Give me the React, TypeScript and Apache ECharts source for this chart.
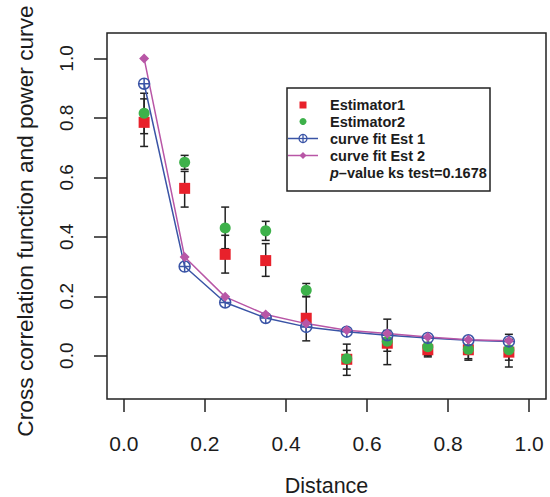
import React, { useEffect, useRef } from "react";
import * as echarts from "echarts";

const distances = [0.05, 0.15, 0.25, 0.35, 0.45, 0.55, 0.65, 0.75, 0.85, 0.95];
const estimator1 = [0.785, 0.563, 0.341, 0.32, 0.126, -0.012, 0.042, 0.02, 0.02, 0.012];
const estimator1Low = [0.704, 0.5, 0.278, 0.267, 0.05, -0.066, -0.03, -0.004, -0.015, -0.038];
const estimator1High = [0.864, 0.62, 0.405, 0.377, 0.2, 0.039, 0.123, 0.044, 0.055, 0.072];
const estimator2 = [0.816, 0.651, 0.43, 0.42, 0.22, -0.01, 0.049, 0.03, 0.022, 0.02];
const estimator2Low = [0.747, 0.627, 0.36, 0.388, 0.198, -0.045, 0.015, 0.0, -0.01, -0.015];
const estimator2High = [0.883, 0.674, 0.5, 0.452, 0.243, 0.018, 0.085, 0.06, 0.054, 0.055];
const fitEst1 = [0.915, 0.3, 0.179, 0.127, 0.097, 0.081, 0.069, 0.06, 0.052, 0.048];
const fitEst2 = [1.0, 0.332, 0.198, 0.139, 0.108, 0.086, 0.075, 0.063, 0.054, 0.05];
const tickValues = [0, 0.2, 0.4, 0.6, 0.8, 1.0];
const legendLabels = ["Estimator1", "Estimator2", "curve fit Est 1", "curve fit Est 2"];
const pValueText = "–value ks test=0.1678";

const RED = "#e8212b";
const GREEN = "#3db14a";
const BLUE = "#3a54a6";
const MAGENTA = "#b856a6";
const INK = "#1c1c1c";
const FONT = "Liberation Sans, Arial, Helvetica, sans-serif";

const circlePlus =
  "path://M0,-10 A10,10 0 1,1 0,10 A10,10 0 1,1 0,-10 Z M-10,0 L10,0 M0,-10 L0,10";

export default function App() {
  const ref = useRef<HTMLDivElement>(null);
  useEffect(() => {
    if (!ref.current) return;
    const chart = echarts.init(ref.current, null, { renderer: "svg" });

    const errData = [
      ...distances.map((d, i) => [d, estimator1Low[i], estimator1High[i]]),
      ...distances.map((d, i) => [d, estimator2Low[i], estimator2High[i]]),
    ];

    const legX = 287;
    const legY = 88;
    const rowY = [105, 121.5, 138.5, 155.5, 172.5];
    const textX = 330;
    const symX = 303;
    const Z = 20;
    const legendText = (t: string, y: number) => ({
      type: "text",
      x: textX,
      y,
      z: Z,
      style: {
        text: t,
        fontSize: 14.5,
        fontWeight: "bold",
        fontFamily: FONT,
        fill: INK,
        verticalAlign: "middle",
      },
    });

    const option: any = {
      animation: false,
      backgroundColor: "#ffffff",
      grid: {
        left: 107,
        right: 4,
        top: 33,
        bottom: 98,
        show: true,
        borderColor: "#222",
        borderWidth: 1.5,
        outerBoundsMode: "none",
      },
      xAxis: {
        type: "value",
        min: -0.0416,
        max: 1.0416,
        axisLine: { show: false, onZero: false },
        splitLine: { show: false },
        axisTick: {
          show: true,
          length: 13,
          customValues: tickValues,
          lineStyle: { color: "#222", width: 1.5 },
        },
        axisLabel: {
          customValues: tickValues,
          formatter: (v: number) => v.toFixed(1),
          margin: 34,
          fontSize: 21,
          fontFamily: FONT,
          color: INK,
        },
        name: "Distance",
        nameLocation: "middle",
        nameGap: 76,
        nameTextStyle: { fontSize: 21.5, fontFamily: FONT, color: INK },
      },
      yAxis: {
        type: "value",
        min: -0.1456,
        max: 1.0856,
        axisLine: { show: false, onZero: false },
        splitLine: { show: false },
        axisTick: {
          show: true,
          length: 13,
          customValues: tickValues,
          lineStyle: { color: "#222", width: 1.5 },
        },
        axisLabel: {
          customValues: tickValues,
          formatter: (v: number) => v.toFixed(1),
          rotate: 90,
          margin: 31,
          fontSize: 19,
          fontFamily: FONT,
          color: INK,
        },
        name: "Cross correlation function and power curve",
        nameLocation: "middle",
        nameRotate: 90,
        nameGap: 71,
        nameTextStyle: { fontSize: 22.7, fontFamily: FONT, color: INK, padding: [0, 10, 0, 0] },
      },
      series: [
        {
          name: "Estimator1",
          type: "scatter",
          symbol: "rect",
          symbolSize: 11,
          itemStyle: { color: RED, opacity: 1 },
          data: distances.map((d, i) => [d, estimator1[i]]),
        },
        {
          name: "Estimator2",
          type: "scatter",
          symbol: "circle",
          symbolSize: 11,
          itemStyle: { color: GREEN, opacity: 1 },
          data: distances.map((d, i) => [d, estimator2[i]]),
        },
        {
          name: "errors",
          type: "custom",
          encode: { x: 0, y: [1, 2] },
          data: errData,
          renderItem: (params: any, api: any) => {
            const x = api.value(0);
            const lo = api.coord([x, api.value(1)]);
            const hi = api.coord([x, api.value(2)]);
            const hw = 4;
            const style = { stroke: "#222", lineWidth: 1.5 };
            return {
              type: "group",
              children: [
                { type: "line", shape: { x1: lo[0], y1: lo[1], x2: hi[0], y2: hi[1] }, style },
                { type: "line", shape: { x1: lo[0] - hw, y1: lo[1], x2: lo[0] + hw, y2: lo[1] }, style },
                { type: "line", shape: { x1: hi[0] - hw, y1: hi[1], x2: hi[0] + hw, y2: hi[1] }, style },
              ],
            };
          },
        },
        {
          name: "curve fit Est 1",
          type: "line",
          symbol: circlePlus,
          symbolSize: 11,
          showAllSymbol: true,
          itemStyle: { color: "rgba(255,255,255,0)", borderColor: BLUE, borderWidth: 1.5 },
          lineStyle: { color: BLUE, width: 1.5 },
          data: distances.map((d, i) => [d, fitEst1[i]]),
        },
        {
          name: "curve fit Est 2",
          type: "line",
          symbol: "diamond",
          symbolSize: 10,
          showAllSymbol: true,
          itemStyle: { color: MAGENTA },
          lineStyle: { color: MAGENTA, width: 1.5 },
          data: distances.map((d, i) => [d, fitEst2[i]]),
        },
      ],
      graphic: [
        {
          type: "rect",
          shape: { x: legX, y: legY, width: 203, height: 103 },
          style: { fill: "#fff", stroke: "#222", lineWidth: 1.5 },
          z: 10,
        },
        { type: "rect", z: Z, shape: { x: symX - 3.5, y: rowY[0] - 3.5, width: 7, height: 7 }, style: { fill: RED } },
        { type: "circle", z: Z, shape: { cx: symX, cy: rowY[1], r: 3.5 }, style: { fill: GREEN } },
        { type: "line", z: Z, shape: { x1: 288, y1: rowY[2], x2: 318, y2: rowY[2] }, style: { stroke: BLUE, lineWidth: 1.5 } },
        { type: "circle", z: Z, shape: { cx: symX, cy: rowY[2], r: 4 }, style: { fill: "#fff", stroke: BLUE, lineWidth: 1.3 } },
        { type: "line", z: Z + 1, shape: { x1: symX - 4, y1: rowY[2], x2: symX + 4, y2: rowY[2] }, style: { stroke: BLUE, lineWidth: 1.3 } },
        { type: "line", z: Z + 1, shape: { x1: symX, y1: rowY[2] - 4, x2: symX, y2: rowY[2] + 4 }, style: { stroke: BLUE, lineWidth: 1.3 } },
        { type: "line", z: Z, shape: { x1: 288, y1: rowY[3], x2: 318, y2: rowY[3] }, style: { stroke: MAGENTA, lineWidth: 1.5 } },
        {
          type: "polygon",
          z: Z + 1,
          shape: { points: [[symX, rowY[3] - 3.5], [symX + 3.5, rowY[3]], [symX, rowY[3] + 3.5], [symX - 3.5, rowY[3]]] },
          style: { fill: MAGENTA },
        },
        legendText(legendLabels[0], rowY[0]),
        legendText(legendLabels[1], rowY[1]),
        legendText(legendLabels[2], rowY[2]),
        legendText(legendLabels[3], rowY[3]),
        {
          type: "text",
          x: textX,
          y: rowY[4],
          z: Z,
          style: {
            text: "{i|p}{n|" + pValueText + "}",
            fontSize: 14.5,
            fontWeight: "bold",
            fontFamily: FONT,
            fill: INK,
            verticalAlign: "middle",
            rich: {
              i: { fontStyle: "italic", fontWeight: "bold", fontSize: 14.5, fontFamily: FONT, fill: INK },
              n: { fontWeight: "bold", fontSize: 14.5, fontFamily: FONT, fill: INK },
            },
          },
        },
      ],
    };
    chart.setOption(option);
    return () => chart.dispose();
  }, []);

  return (
    <div
      ref={ref}
      style={{ position: "fixed", left: 0, top: 0, width: 550, height: 497, background: "#fff" }}
    />
  );
}
